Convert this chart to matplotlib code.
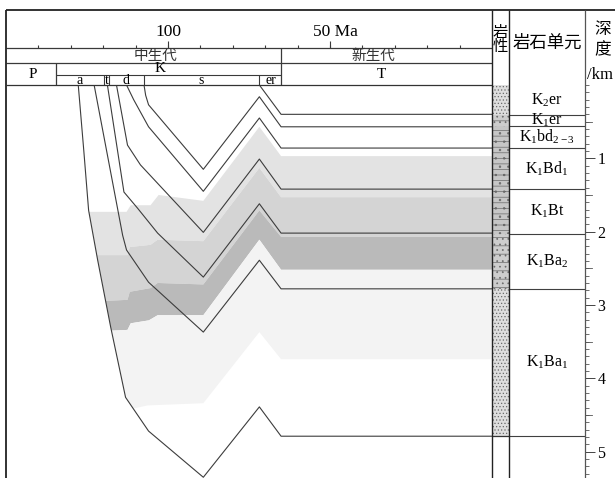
import matplotlib
matplotlib.use('Agg')
import matplotlib.pyplot as plt
from matplotlib.patches import Polygon, Rectangle
from matplotlib.transforms import blended_transform_factory
import numpy as np

plt.rcParams['font.family'] = ['Liberation Serif', 'Noto Sans CJK SC']
plt.rcParams['mathtext.fontset'] = 'custom'
plt.rcParams['mathtext.rm'] = 'Liberation Serif'
plt.rcParams['mathtext.it'] = 'Liberation Serif:italic'
plt.rcParams['hatch.linewidth'] = 0.5

# 地质年代 (Ma)
era_names = ['中生代', '新生代']
era_bounds = [150, 65, 0]
period_names = ['P', 'K', 'T']
period_bounds = [150, 134.6, 65, 0]
stage_names = ['a', 't', 'd', 's', 'er']
stage_bounds = [134.6, 119.7, 118.2, 107.5, 71.8, 65]

# 岩石单元 (底界深度 km) 与岩性
unit_names = [r'K$_{\mathrm{2}}$er', r'K$_{\mathrm{1}}$er', r'K$_{\mathrm{1}}$bd$_{\mathrm{2-3}}$',
              r'K$_{\mathrm{1}}$Bd$_{\mathrm{1}}$', r'K$_{\mathrm{1}}$Bt', r'K$_{\mathrm{1}}$Ba$_{\mathrm{2}}$',
              r'K$_{\mathrm{1}}$Ba$_{\mathrm{1}}$']
unit_bounds = [0, 0.41, 0.56, 0.86, 1.42, 2.03, 2.78, 4.79]
unit_lith = ['sand', 'mix', 'mud', 'mud', 'mud', 'mix', 'sand']

# 埋藏史曲线: 各单元底界 (年龄 Ma, 埋深 km)
age_Ba1 = [127.7, 126.0, 124.5, 121.7, 117.7, 113.1, 106.0, 89.1, 71.8, 65.1, 0]
dep_Ba1 = [0, 0.89, 1.71, 2.39, 3.30, 4.26, 4.72, 5.35, 4.39, 4.79, 4.79]
age_Ba2 = [122.8, 114.0, 112.8, 106.0, 89.1, 71.8, 65.1, 0]
dep_Ba2 = [0, 2.05, 2.25, 2.69, 3.37, 2.39, 2.78, 2.78]
age_Bt = [118.7, 113.6, 109.4, 103.2, 89.1, 71.8, 65.1, 0]
dep_Bt = [0, 1.46, 1.68, 2.02, 2.62, 1.62, 2.02, 2.02]
age_Bd1 = [115.9, 112.5, 108.5, 89.1, 71.8, 65.1, 0]
dep_Bd1 = [0, 0.82, 1.09, 2.01, 1.01, 1.42, 1.42]
age_bd = [112.8, 110.6, 106.0, 89.1, 71.8, 65.1, 0]
dep_bd = [0, 0.20, 0.57, 1.45, 0.45, 0.86, 0.86]
age_K1er = [107.4, 106.9, 106.0, 89.1, 71.8, 65.1, 0]
dep_K1er = [0, 0.14, 0.27, 1.15, 0.16, 0.57, 0.57]
age_K2er = [71.8, 65.1, 0]
dep_K2er = [0, 0.40, 0.40]

# 成熟度分带边界 (年龄 Ma, 埋深 km)
z0_age = [126.5, 112.8, 111.5, 105.4, 102.9, 97.7, 89.1, 71.8, 65.1, 0]
z0_dep = [1.73, 1.73, 1.64, 1.64, 1.50, 1.53, 1.58, 0.57, 0.97, 0.97]
z1_age = [126.5, 112.5, 111.8, 105.4, 103.2, 89.1, 71.8, 65.1, 0]
z1_dep = [2.32, 2.32, 2.21, 2.18, 2.11, 2.13, 1.13, 1.53, 1.53]
z2_age = [126.5, 112.5, 111.8, 105.4, 103.2, 89.1, 71.8, 65.1, 0]
z2_dep = [2.96, 2.93, 2.82, 2.77, 2.70, 2.72, 1.71, 2.07, 2.07]
z3_age = [126.5, 112.5, 111.5, 105.9, 103.2, 89.1, 71.8, 65.1, 0]
z3_dep = [3.37, 3.34, 3.25, 3.21, 3.14, 3.14, 2.11, 2.52, 2.52]
z4_age = [126.5, 112.5, 106.3, 89.1, 71.8, 65.1, 0]
z4_dep = [4.43, 4.43, 4.37, 4.34, 3.37, 3.74, 3.74]
zone_colors = ['#e3e3e3', '#d4d4d4', '#bababa', '#f3f3f3']

W, H = 615, 478
DMAX = 5.36
fig = plt.figure(figsize=(W / 100, H / 100), dpi=100)


def add_px_axes(x0, y0, x1, y1):
    return fig.add_axes([x0 / W, 1 - y1 / H, (x1 - x0) / W, (y1 - y0) / H])


# 埋藏史主图
ax = add_px_axes(6, 85, 492, 478)
ax.set_xlim(150, 0)
ax.set_ylim(DMAX, 0)
ax.axis('off')

clip = Polygon(np.column_stack([age_Ba1 + [0], dep_Ba1 + [0]]), closed=True,
               transform=ax.transData)
zones = [(z0_age, z0_dep), (z1_age, z1_dep), (z2_age, z2_dep), (z3_age, z3_dep), (z4_age, z4_dep)]
for (ta, td), (ba, bd), c in zip(zones[:-1], zones[1:], zone_colors):
    verts = list(zip(ta, td)) + list(zip(ba[::-1], bd[::-1]))
    p = Polygon(verts, closed=True, facecolor=c, edgecolor='none', zorder=1)
    ax.add_patch(p)
    p.set_clip_path(clip)

curves = [(age_Ba1, dep_Ba1), (age_Ba2, dep_Ba2), (age_Bt, dep_Bt), (age_Bd1, dep_Bd1),
          (age_bd, dep_bd), (age_K1er, dep_K1er), (age_K2er, dep_K2er)]
for a, d in curves:
    ax.plot(a, d, color='#3c3c3c', lw=0.8, zorder=3)

# 年代表头
axh = add_px_axes(6, 10, 492, 85)
axh.set_xlim(150, 0)
axh.set_ylim(85, 10)
axh.axis('off')
lc = '#3a3a3a'
axh.hlines([48, 63], 150, 0, color=lc, lw=0.9)
axh.hlines(75, stage_bounds[0], stage_bounds[-1], color=lc, lw=0.8)
axh.vlines(era_bounds[1], 48, 85, color=lc, lw=0.9)
axh.vlines(period_bounds[1], 63, 85, color=lc, lw=0.9)
axh.vlines(stage_bounds[1:-1], 75, 85, color=lc, lw=0.8)
ticks = np.arange(10, 150, 10)
axh.vlines(ticks, 45, 48, color=lc, lw=0.8)
axh.vlines([100, 50], 41, 48, color=lc, lw=0.8)
axh.text(100, 32, '100', ha='center', va='center', fontsize=12.5)
axh.text(55.4, 32, '50 Ma', ha='left', va='center', fontsize=12.5)
axh.text(104, 56, era_names[0], ha='center', va='center', fontsize=10.5, color='#333333')
axh.text(36.5, 56, era_names[1], ha='center', va='center', fontsize=10.5, color='#333333')
axh.text(141.7, 75, period_names[0], ha='center', va='center', fontsize=11)
axh.text(102.5, 69, period_names[1], ha='center', va='center', fontsize=11)
axh.text(34, 75, period_names[2], ha='center', va='center', fontsize=11)
for name, a0, a1 in zip(stage_names, stage_bounds[:-1], stage_bounds[1:]):
    axh.text((a0 + a1) / 2, 80.5, name, ha='center', va='center', fontsize=10)

# 岩性柱
axl = add_px_axes(492, 85, 509.3, 478)
axl.set_xlim(0, 1)
axl.set_ylim(DMAX, 0)
axl.axis('off')
lith_style = {'sand': ('#dedede', '.....'), 'mix': ('#cdcdcd', '--...'), 'mud': ('#c6c6c6', '---..')}
for top, bot, kind in zip(unit_bounds[:-1], unit_bounds[1:], unit_lith):
    fc, hatch = lith_style[kind]
    axl.add_patch(Rectangle((0, top), 1, bot - top, facecolor=fc, edgecolor='#6a6a6a',
                            hatch=hatch, lw=0))
axl.hlines(unit_bounds[-1], 0, 1, color='#333333', lw=0.9)

# 岩石单元 + 深度轴
axu = add_px_axes(509.3, 85, 585, 478)
axu.set_xlim(0, 1)
axu.set_ylim(DMAX, 0)
for s in axu.spines.values():
    s.set_visible(False)
axu.set_xticks([])
axu.hlines(unit_bounds[1:], 0, 1, color='#404040', lw=0.8)
for name, top, bot in zip(unit_names, unit_bounds[:-1], unit_bounds[1:]):
    axu.text(0.5, (top + bot) / 2, name, ha='center', va='center', fontsize=11.5)
axu.yaxis.tick_right()
axu.set_yticks([1, 2, 3, 4, 5])
axu.set_yticks(np.arange(0, 5.35, 0.1), minor=True)
axu.tick_params(axis='y', which='major', direction='out', length=7, width=0.7,
                color='#444444', labelsize=11.5, pad=2)
axu.tick_params(axis='y', which='minor', direction='out', length=3.2, width=0.6,
                color='#555555')
tr = blended_transform_factory(axu.transAxes, axu.transData)
for d in np.arange(0.5, 5.3, 1.0):
    axu.plot([1, 1 + 7 / 75.7], [d, d], color='#555555', lw=0.6, transform=tr, clip_on=False)

# 图框与右侧表头
axo = add_px_axes(0, 0, W, H)
axo.set_xlim(0, W)
axo.set_ylim(H, 0)
axo.axis('off')
axo.vlines(6, 10, H, color='#222222', lw=1.3)
axo.hlines(10, 6, W, color='#222222', lw=1.3)
axo.hlines(85, 6, 492, color='#333333', lw=0.9)
axo.vlines([492, 509.3], 10, H, color='#222222', lw=1.0)
axo.vlines(585, 10, H, color='#555555', lw=0.9)
axo.text(500.6, 33, '岩', ha='center', va='center', fontsize=11)
axo.text(500.6, 47, '性', ha='center', va='center', fontsize=11)
axo.text(547, 44, '岩石单元', ha='center', va='center', fontsize=12.5)
axo.text(603, 30, '深', ha='center', va='center', fontsize=12)
axo.text(603, 50, '度', ha='center', va='center', fontsize=12)
axo.text(600, 75, '/km', ha='center', va='center', fontsize=12)

fig.savefig('out.png', dpi=100)
